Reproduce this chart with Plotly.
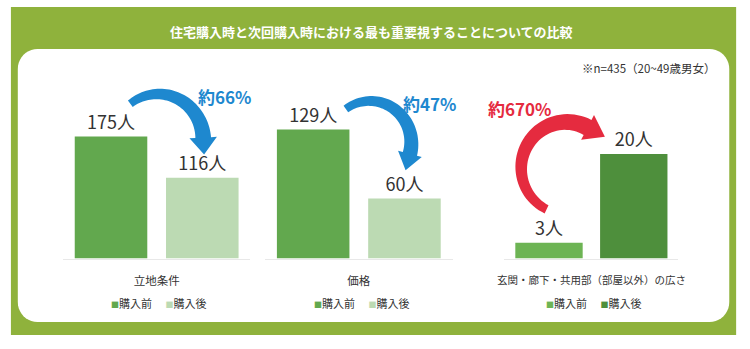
import math
import plotly.graph_objects as go

# ---- data ----
series = ["購入前", "購入後"]
categories = ["立地条件", "価格", "玄関・廊下・共用部（部屋以外）の広さ"]
before_counts = [175, 129, 3]
after_counts = [116, 60, 20]
change_labels = ["約66%", "約47%", "約670%"]
title_text = "住宅購入時と次回購入時における最も重要視することについての比較"
note_text = "※n=435（20~49歳男女）"

# ---- styling ----
W, H = 750, 349
FONT = "Noto Sans CJK JP"
FRAME_GREEN = "#8fb23c"
pre_colors = ["#62a84e", "#62a84e", "#6db454"]
post_colors = ["#bcdab3", "#bcdab3", "#4e8f3c"]
arrow_colors = ["#1e88cf", "#1e88cf", "#e52b3f"]
TEXT = "#333333"

# subplot geometry in pixels
x_domains_px = [(57, 248), (263, 454), (506.8, 684.2)]
y_top_px, y_base_px = 60, 258.5
y_max = [285, 198.5, 38]
tick_sizes = [11.5, 11.5, 10.5]
# bar placement inside each category slot (category units)
bar_offsets = [-0.437, 0.05]
bar_width = 0.387


def px(x):
    return x / W


def py(y):
    return 1 - y / H


def path_from_px(points):
    return "M " + " L ".join(f"{px(x):.5f},{py(y):.5f}" for x, y in points) + " Z"


def rounded_rect(x0, y0, x1, y1, r, n=10):
    pts = []
    corners = [(x1 - r, y0 + r, 90, 0), (x1 - r, y1 - r, 0, -90),
               (x0 + r, y1 - r, -90, -180), (x0 + r, y0 + r, 180, 90)]
    for cx, cy, a0, a1 in corners:
        for i in range(n + 1):
            a = math.radians(a0 + (a1 - a0) * i / n)
            pts.append((cx + r * math.cos(a), cy - r * math.sin(a)))
    return pts


def arc_arrow(cx, cy, r, a0, a1, w0, w1, head_w, head_len, n=48):
    s = 1 if a1 > a0 else -1
    outer, inner = [], []
    for i in range(n):
        t = i / (n - 1)
        a = math.radians(a0 + (a1 - a0) * t)
        w = w0 + (w1 - w0) * t
        outer.append((cx + (r + w / 2) * math.cos(a), cy - (r + w / 2) * math.sin(a)))
        inner.append((cx + (r - w / 2) * math.cos(a), cy - (r - w / 2) * math.sin(a)))
    a = math.radians(a1)
    ex, ey = cx + r * math.cos(a), cy - r * math.sin(a)
    ux, uy = math.cos(a), -math.sin(a)
    tx, ty = -s * math.sin(a), -s * math.cos(a)
    head = [(ex + ux * head_w / 2, ey + uy * head_w / 2),
            (ex + tx * head_len, ey + ty * head_len),
            (ex - ux * head_w / 2, ey - uy * head_w / 2)]
    return outer + head + inner[::-1]


fig = go.Figure()

for i, cat in enumerate(categories):
    k = "" if i == 0 else str(i + 1)
    for j, (name, vals, cols) in enumerate(((series[0], before_counts, pre_colors),
                                            (series[1], after_counts, post_colors))):
        fig.add_trace(go.Bar(
            x=[cat], y=[vals[i]], name=name,
            offset=bar_offsets[j], width=bar_width,
            marker=dict(color=cols[i], line=dict(width=0)),
            texttemplate="%{y}人", textposition="outside",
            textfont=dict(family=FONT, size=18, color=TEXT),
            cliponaxis=False, showlegend=False, hoverinfo="skip",
            xaxis="x" + k, yaxis="y" + k,
        ))
    x0, x1 = x_domains_px[i]
    fig.layout["xaxis" + k] = dict(
        domain=[px(x0), px(x1)], anchor="y" + k, type="category",
        range=[-0.5, 0.5], autorange=False,
        showline=True, linecolor="#e8e8e8", linewidth=1,
        ticks="outside", ticklen=12, tickcolor="rgba(0,0,0,0)",
        tickfont=dict(family=FONT, size=tick_sizes[i], color=TEXT),
        showgrid=False, zeroline=False, fixedrange=True,
    )
    fig.layout["yaxis" + k] = dict(
        domain=[py(y_base_px), py(y_top_px)], anchor="x" + k,
        range=[0, y_max[i]], visible=False, showgrid=False,
        zeroline=False, fixedrange=True,
    )

shapes = [
    dict(type="rect", xref="paper", yref="paper", x0=px(4), x1=px(743),
         y0=py(335), y1=py(7), fillcolor=FRAME_GREEN, line=dict(width=0),
         layer="below"),
    dict(type="path", xref="paper", yref="paper",
         path=path_from_px(rounded_rect(11, 49, 736, 322, 20)),
         fillcolor="white", line=dict(width=0), layer="below"),
]

# curved change arrows
arrow_geom = [
    dict(cx=154, cy=140, r=46, a0=128, a1=3, w0=8, w1=16, head_w=28, head_len=17),
    dict(cx=370, cy=143, r=42, a0=126, a1=-15, w0=8, w1=15, head_w=25, head_len=17),
    dict(cx=570, cy=168, r=46, a0=244, a1=62, w0=9, w1=17, head_w=28, head_len=20),
]
for g, col in zip(arrow_geom, arrow_colors):
    shapes.append(dict(type="path", xref="paper", yref="paper",
                       path=path_from_px(arc_arrow(**g)),
                       fillcolor=col, line=dict(width=0), layer="above"))

annotations = [
    dict(text=title_text, x=px(371.5), y=py(31), xref="paper", yref="paper",
         showarrow=False, xanchor="center", yanchor="middle",
         font=dict(family=FONT, size=13, color="white", weight="bold")),
    dict(text=note_text, x=px(723), y=py(68), xref="paper", yref="paper",
         showarrow=False, xanchor="right", yanchor="middle",
         font=dict(family=FONT, size=11.5, color=TEXT)),
]

label_pos = [(222, 96), (431, 103), (522, 108)]
for lab, (lx, ly), col in zip(change_labels, label_pos, arrow_colors):
    annotations.append(dict(text=lab, x=px(lx), y=py(ly), xref="paper", yref="paper",
                            showarrow=False, xanchor="center", yanchor="middle",
                            font=dict(family=FONT, size=17, color=col, weight="bold")))

# per-chart legends
legend_centers = [154.5, 361, 597.5]
for i, cx in enumerate(legend_centers):
    items = []
    for name, cols in ((series[0], pre_colors), (series[1], post_colors)):
        items.append(f"<span style='color:{cols[i]};font-size:8px'>■</span>{name}")
    annotations.append(dict(text="　 ".join(items), x=px(cx), y=py(303),
                            xref="paper", yref="paper", showarrow=False,
                            xanchor="center", yanchor="middle",
                            font=dict(family=FONT, size=11, color=TEXT)))

fig.update_layout(
    width=W, height=H, margin=dict(l=0, r=0, t=0, b=0),
    paper_bgcolor="white", plot_bgcolor="rgba(0,0,0,0)",
    barmode="overlay",
    shapes=shapes, annotations=annotations, showlegend=False,
    hovermode=False, font=dict(family=FONT),
)

fig.write_html("out.html", config={"displayModeBar": False})
